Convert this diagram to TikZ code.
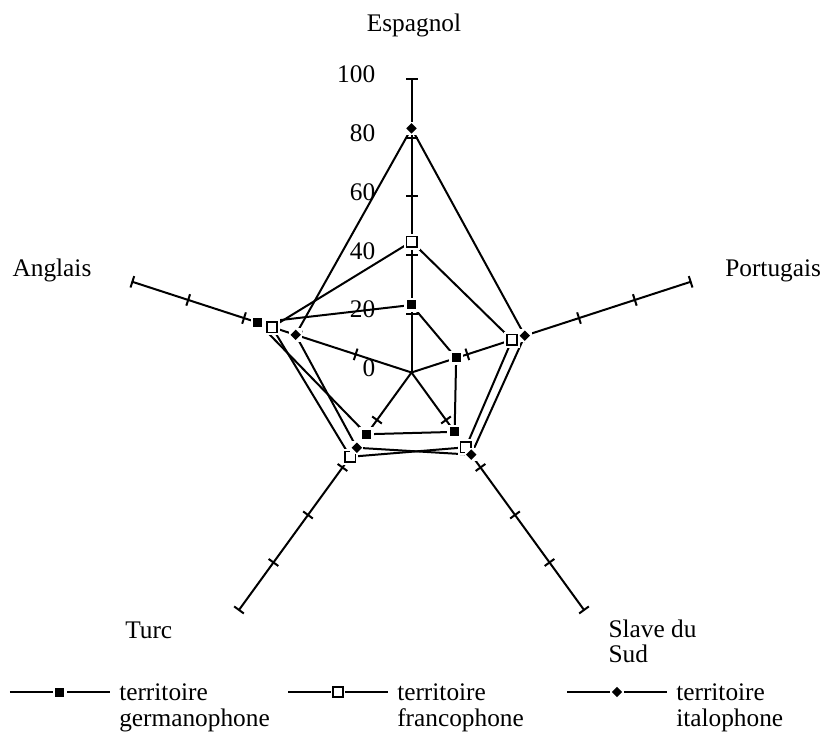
\documentclass[tikz,border=0pt]{standalone}
\usepackage{fontspec}
\setmainfont{Liberation Serif}
\usetikzlibrary{shapes.geometric}

\tikzset{
  axe/.style={line width=1.5pt},
  serie/.style={line width=1.5pt, line join=miter},
  halo/.style={rectangle, fill=white, inner sep=0pt, minimum size=#1},
  halo/.default=10pt,
  germ/.style={rectangle, fill=black, inner sep=0pt, minimum size=6.75pt},
  franc/.style={rectangle, draw=black, fill=white, line width=1.2pt, inner sep=0pt, minimum size=7.8pt},
  ital/.style={diamond, fill=black, inner sep=0pt, minimum size=8pt},
  lbl/.style={inner sep=0pt, font=\fontsize{19}{19.5}\selectfont}
}

\begin{document}
\begin{tikzpicture}[x=0.75pt, y=0.75pt]
            \useasboundingbox (-411.5,-365.5) rectangle (411.5,372.5);
            \def\u{2.935}
            % axes + graduations
            \foreach \a in {90,18,-54,-126,162} {
                \draw[axe] (0,0) -- (\a:100*\u);
                \begin{scope}[rotate=\a]
                    \foreach \v in {20,40,...,100}
                        \draw[axe] (\v*\u,-6) -- (\v*\u,6);
                \end{scope}
            }
            \foreach \v in {0,20,...,100}
                \node[lbl, anchor=base east] (g\v) at (-36,\v*\u-4) {\v};
            \node[lbl, anchor=base] (esp) at (2.5,340.8) {Espagnol};
            \node[lbl, anchor=base west] (por) at (313.5,95.8) {Portugais};
            \node[lbl, anchor=base west] (ang) at (-399.2,95.8) {Anglais};
            \node[lbl, anchor=base west] (tur) at (-286.5,-265.8) {Turc};
            \node[lbl, anchor=base west] (sla) at (196.8,-265.2) {Slave du};
            \node[lbl, anchor=base west] (sud) at (196.8,-290.2) {Sud};
            % donnees
            \foreach \v [count=\i] in {23,16,25,26,55}
                \coordinate (ger-\i) at ({162-72*\i}:\v*\u);
            \foreach \v [count=\i] in {44.6,36,31.5,35.5,50}
                \coordinate (fra-\i) at ({162-72*\i}:\v*\u);
            \foreach \v [count=\i] in {83.2,40.6,34.6,31.7,41.5}
                \coordinate (ita-\i) at ({162-72*\i}:\v*\u);
            \draw[serie] (ger-1) -- (ger-2) -- (ger-3) -- (ger-4) -- (ger-5) -- cycle;
            \draw[serie] (fra-1) -- (fra-2) -- (fra-3) -- (fra-4) -- (fra-5) -- cycle;
            \draw[serie] (ita-1) -- (ita-2) -- (ita-3) -- (ita-4) -- (ita-5) -- cycle;
            \foreach \i in {1,...,5} {
                \node[halo=11pt] at (ger-\i) {};
                \node[germ] (gm-\i) at (ger-\i) {};
                \node[halo=12pt] at (fra-\i) {};
                \node[franc] (fm-\i) at (fra-\i) {};
                \node[halo=10pt] at (ita-\i) {};
                \node[ital] (im-\i) at (ita-\i) {};
            }
            % legende
            \foreach \x/\s/\n/\t in {-401.5/germ/lg/germanophone, -123.5/franc/lf/francophone, 155.5/ital/li/italophone} {
                \coordinate (\n-a) at (\x,-319.5);
                \coordinate (\n-b) at (\x+100,-319.5);
                \draw[axe] (\n-a) -- (\n-b);
                \node[halo=11pt] at (\x+50,-319.5) {};
                \node[\s] (\n-m) at (\x+50,-319.5) {};
                \node[lbl, anchor=base west] (\n-t1) at (\x+109,-327.5) {territoire};
                \node[lbl, anchor=base west] (\n-t2) at (\x+109,-354) {\t};
            }
        \end{tikzpicture}
\end{document}
